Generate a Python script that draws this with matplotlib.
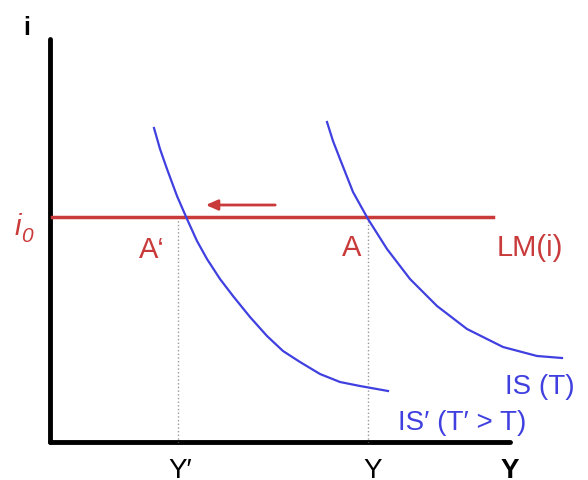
import matplotlib.pyplot as plt

# Curve points (pixel-like units, y grows downward)
is_new_x = [154, 160, 167, 177, 187, 197, 207, 220, 233, 250, 267, 283, 300, 320, 340, 360, 388]
is_new_y = [129, 150, 170, 197, 220, 242, 260, 280, 297, 318, 337, 352, 363, 375, 383, 387, 392]
is_old_x = [327, 333, 340, 353, 368, 387, 410, 437, 467, 503, 537, 562]
is_old_y = [123, 142, 160, 193, 220, 250, 280, 307, 330, 348, 357, 359]

lm_x = [52, 493]
lm_y = [218, 218]

y_new, y_old = 178, 368   # equilibrium outputs
i0 = 218

red = '#c93a3a'
blue = '#4040e0'

plt.rcParams['font.family'] = ['Liberation Sans', 'DejaVu Sans']

fig = plt.figure(figsize=(5.88, 4.81), dpi=100)
ax = fig.add_axes([0, 0, 1, 1])
ax.set_xlim(0, 588)
ax.set_ylim(481, 0)
ax.axis('off')

# axes of the diagram
ax.plot([50, 50], [40, 443], color='black', lw=3.5, solid_capstyle='round')
ax.plot([50, 510], [443, 443], color='black', lw=3.5, solid_capstyle='round')

# dotted drop lines
ax.plot([y_new, y_new], [i0, 443], color='#999999', lw=1, ls=':')
ax.plot([y_old, y_old], [i0, 443], color='#999999', lw=1, ls=':')

# LM and IS curves
ax.plot(lm_x, lm_y, color=red, lw=2.5)
ax.plot(is_new_x, is_new_y, color=blue, lw=1.6, solid_joinstyle='round')
ax.plot(is_old_x, is_old_y, color=blue, lw=1.6, solid_joinstyle='round')

# shift arrow
ax.annotate('', xy=(203, 206), xytext=(278, 206),
            arrowprops=dict(arrowstyle='-|>,head_length=0.5,head_width=0.22',
                            color=red, lw=2, mutation_scale=14))

ax.text(27, 35, 'i', fontsize=18, fontweight='bold', ha='center', va='baseline')
ax.text(18, 235, 'i', fontsize=21, style='italic', color=red, ha='center', va='baseline')
ax.text(27, 242, '0', fontsize=15, style='italic', color=red, ha='center', va='baseline')
ax.text(152, 258, 'A‘', fontsize=21, color=red, ha='center', va='baseline')
ax.text(352, 256, 'A', fontsize=21, color=red, ha='center', va='baseline')
ax.text(530, 256, 'LM(i)', fontsize=21, color=red, ha='center', va='baseline')
ax.text(540, 394, 'IS (T)', fontsize=20, color=blue, ha='center', va='baseline')
ax.text(462, 430, 'IS′ (T′ > T)', fontsize=20, color=blue, ha='center', va='baseline')
ax.text(180, 478, 'Y′', fontsize=20, ha='center', va='baseline')
ax.text(373, 478, 'Y', fontsize=20, ha='center', va='baseline')
ax.text(510, 478, 'Y', fontsize=20, fontweight='bold', ha='center', va='baseline')

fig.savefig('out.png', dpi=100)
